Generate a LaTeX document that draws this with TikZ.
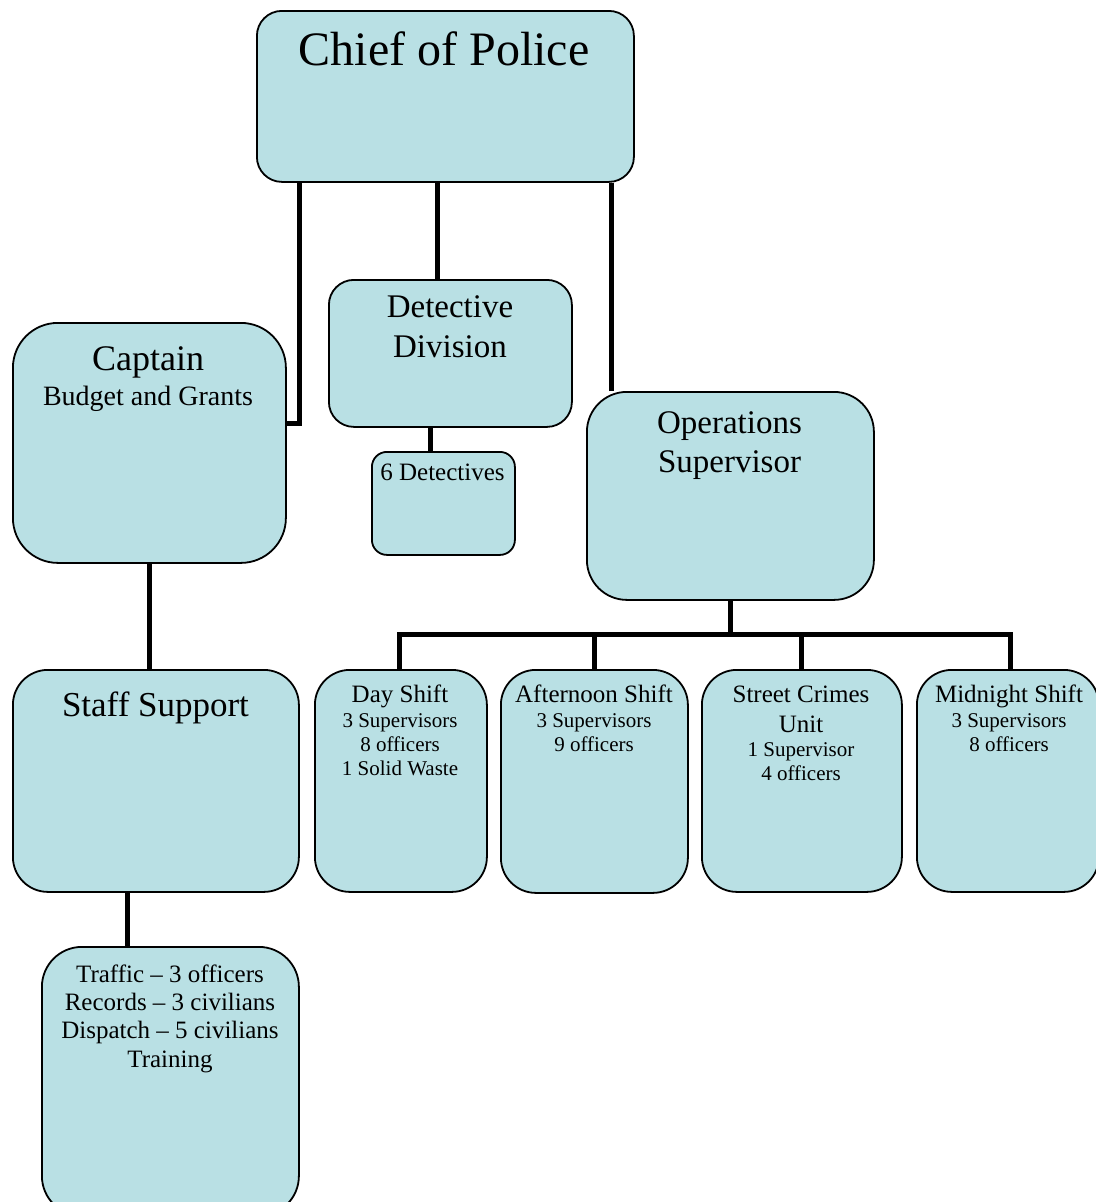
\documentclass[tikz,border=0pt]{standalone}
\usepackage{fontspec}
\setmainfont{LiberationSerif}[Extension=.ttf, UprightFont=*-Regular, BoldFont=*-Bold]
\usetikzlibrary{backgrounds}
\definecolor{boxfill}{RGB}{185,224,228}
\tikzset{
  orgbox/.style={draw=black, line width=1.8pt, fill=boxfill, inner sep=0pt, anchor=north west},
  link/.style={draw=black, line width=5pt},
  lbl/.style={anchor=base, inner sep=0pt},
  fbig/.style={font=\fontsize{48}{50}\selectfont},
  fmid/.style={font=\fontsize{33}{36}\selectfont},
  fsub/.style={font=\fontsize{28}{30}\selectfont},
  fhead/.style={font=\fontsize{25}{27}\selectfont},
  fdet/.style={font=\fontsize{21}{23}\selectfont}
}
\begin{document}
\begin{tikzpicture}[x=1pt,y=-1pt]
\useasboundingbox (0,0) rectangle (1095,1202);
% boxes
\node[orgbox, rounded corners=25pt, minimum width=377pt, minimum height=171pt] (chief) at (256,10) {};
\node[orgbox, rounded corners=25pt, minimum width=243pt, minimum height=147pt] (detective) at (328,279) {};
\node[orgbox, rounded corners=15pt, minimum width=143pt, minimum height=103pt] (sixdet) at (371,451) {};
\node[orgbox, rounded corners=45pt, minimum width=273pt, minimum height=240pt] (captain) at (12,322) {};
\node[orgbox, rounded corners=40pt, minimum width=287pt, minimum height=208pt] (ops) at (586,391) {};
\node[orgbox, rounded corners=35pt, minimum width=286pt, minimum height=222pt] (staff) at (12,669) {};
\node[orgbox, rounded corners=40pt, minimum width=257pt, minimum height=269pt] (traffic) at (41,946) {};
\node[orgbox, rounded corners=35pt, minimum width=172pt, minimum height=222pt] (day) at (314,669) {};
\node[orgbox, rounded corners=35pt, minimum width=187pt, minimum height=223pt] (afternoon) at (500,669) {};
\node[orgbox, rounded corners=35pt, minimum width=200pt, minimum height=222pt] (street) at (701,669) {};
\node[orgbox, rounded corners=35pt, minimum width=182pt, minimum height=222pt] (midnight) at (916,669) {};
% connectors
\begin{scope}[on background layer]
\draw[link] ([xshift=43pt]chief.south west) |- ([yshift=19pt]captain.east);
\draw[link] ([xshift=-12.5pt]detective.north) -- ([xshift=-12.5pt]detective.north |- chief.south);
\draw[link] ([xshift=25pt]ops.north west) -- ([xshift=25pt]ops.north west |- chief.south);
\draw[link] ([xshift=-12.5pt]sixdet.north) -- ([xshift=-12.5pt]sixdet.north |- detective.south);
\draw[link] (captain.south) -- (captain.south |- staff.north);
\draw[link] ([xshift=-28pt]staff.south) -- ([xshift=-28pt]staff.south |- traffic.north);
\coordinate (bus) at ([yshift=-34pt]ops.south);
\draw[link] (ops.south) -- (bus);
\draw[link] ([xshift=-1pt]day.north) |- (bus);
\draw[link] ([xshift=2.5pt]midnight.north) |- (bus);
\draw[link] (afternoon.north) -- (afternoon.north |- bus);
\draw[link] (street.north) -- (street.north |- bus);
\end{scope}
% texts
\node[lbl, fbig] (t-chief) at (444,65) {Chief of Police};
\node[lbl, font=\fontsize{36}{38}\selectfont] (t-cap1) at (148,370) {Captain};
\node[lbl, fsub] (t-cap2) at (148,405) {Budget and Grants};
\node[lbl, fmid] (t-det1) at (450,317) {Detective};
\node[lbl, fmid] (t-det2) at (450,357) {Division};
\node[lbl, fhead] (t-six) at (442.5,480) {6 Detectives};
\node[lbl, fmid] (t-ops1) at (729.5,433) {Operations};
\node[lbl, fmid] (t-ops2) at (729.5,472) {Supervisor};
\node[lbl, font=\fontsize{35}{37}\selectfont] (t-staff) at (155.5,716) {Staff Support};
\node[lbl, fhead] (t-day1) at (400,702) {Day Shift};
\node[lbl, fdet] (t-day2) at (400,727) {3 Supervisors};
\node[lbl, fdet] (t-day3) at (400,751) {8 officers};
\node[lbl, fdet] (t-day4) at (400,775) {1 Solid Waste};
\node[lbl, fhead] (t-aft1) at (594,702) {Afternoon Shift};
\node[lbl, fdet] (t-aft2) at (594,727) {3 Supervisors};
\node[lbl, fdet] (t-aft3) at (594,751) {9 officers};
\node[lbl, fhead] (t-str1) at (801,702) {Street Crimes};
\node[lbl, fhead] (t-str2) at (801,732) {Unit};
\node[lbl, fdet] (t-str3) at (801,756) {1 Supervisor};
\node[lbl, fdet] (t-str4) at (801,780) {4 officers};
\node[lbl, fhead] (t-mid1) at (1009,702) {Midnight Shift};
\node[lbl, fdet] (t-mid2) at (1009,727) {3 Supervisors};
\node[lbl, fdet] (t-mid3) at (1009,751) {8 officers};
\node[lbl, fhead] (t-tr1) at (170,982) {Traffic – 3 officers};
\node[lbl, fhead] (t-tr2) at (170,1010) {Records – 3 civilians};
\node[lbl, fhead] (t-tr3) at (170,1038) {Dispatch – 5 civilians};
\node[lbl, fhead] (t-tr4) at (170,1067) {Training};
\end{tikzpicture}
\end{document}
